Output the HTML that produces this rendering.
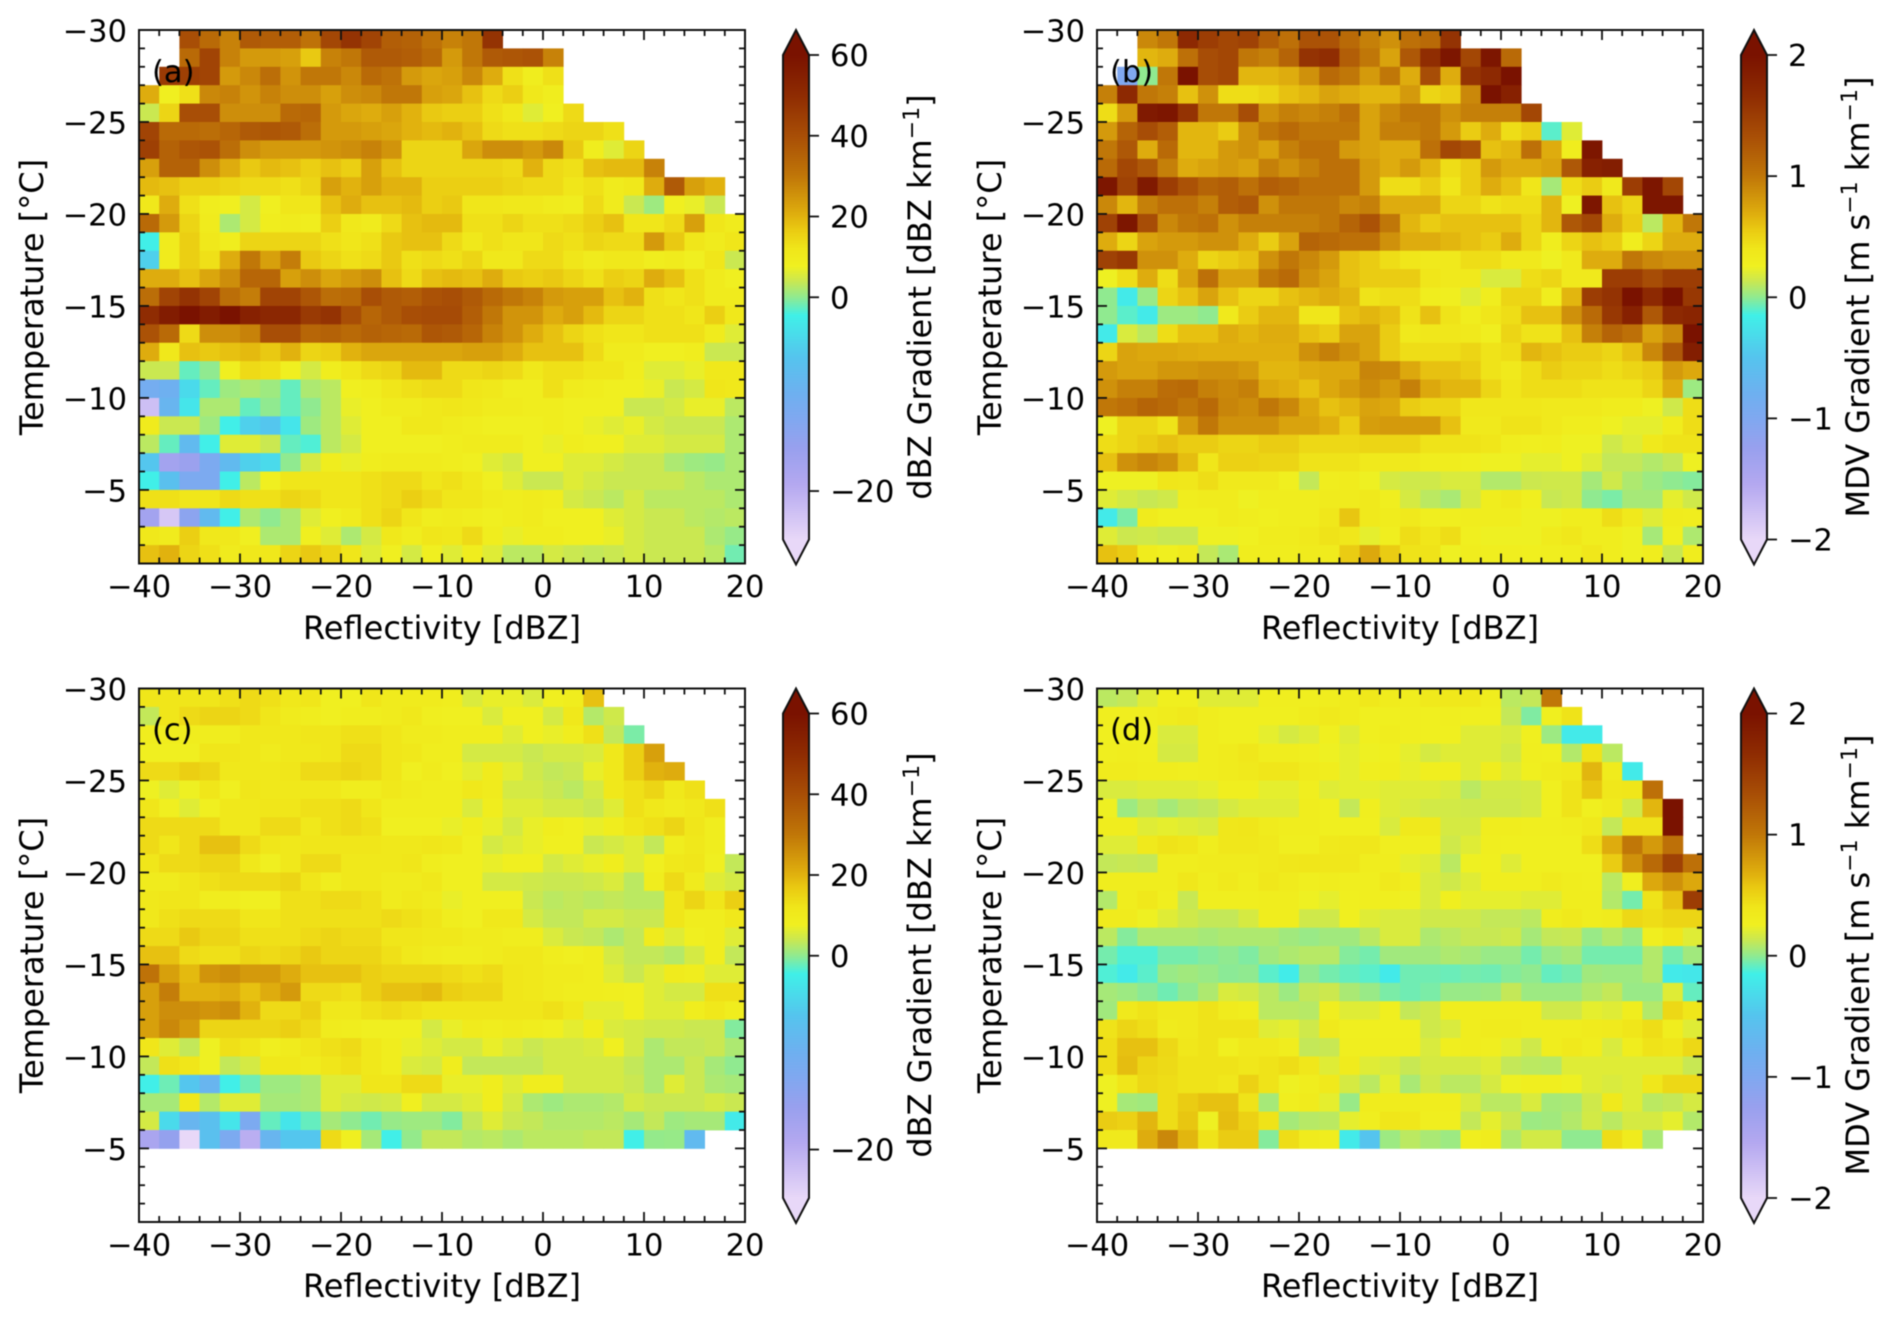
<!DOCTYPE html>
<html lang="en">
<head>
<meta charset="utf-8">
<title>Gradient heatmaps by reflectivity and temperature</title>
<style>
html,body{margin:0;padding:0;background:#fff;}
svg{display:block;filter:blur(0.4px);}
text{font-family:"DejaVu Sans","Liberation Sans",sans-serif;font-size:30.5px;fill:#000;}
text.axis-title{font-size:32px;}
text.axis-title tspan.sup{font-size:22px;}
</style>
</head>
<body>
<svg id="figure" xmlns="http://www.w3.org/2000/svg" width="1892" height="1323" viewBox="0 0 1892 1323">
  <rect x="0" y="0" width="1892" height="1323" fill="#ffffff"/>
  <g id="layer-marks"></g>

  <text class="axis-title" x="442" y="639" text-anchor="middle">Reflectivity [dBZ]</text>
  <text class="axis-title" x="1400" y="639" text-anchor="middle">Reflectivity [dBZ]</text>
  <text class="axis-title" x="442" y="1297" text-anchor="middle">Reflectivity [dBZ]</text>
  <text class="axis-title" x="1400" y="1297" text-anchor="middle">Reflectivity [dBZ]</text>

  <text class="axis-title" transform="translate(43,297) rotate(-90)" text-anchor="middle">Temperature [°C]</text>
  <text class="axis-title" transform="translate(1001,297) rotate(-90)" text-anchor="middle">Temperature [°C]</text>
  <text class="axis-title" transform="translate(43,955) rotate(-90)" text-anchor="middle">Temperature [°C]</text>
  <text class="axis-title" transform="translate(1001,955) rotate(-90)" text-anchor="middle">Temperature [°C]</text>

  <text class="axis-title" transform="translate(931,297) rotate(-90)" text-anchor="middle">dBZ Gradient [dBZ km<tspan class="sup" dy="-12">−1</tspan><tspan dy="12">]</tspan></text>
  <text class="axis-title" transform="translate(931,955) rotate(-90)" text-anchor="middle">dBZ Gradient [dBZ km<tspan class="sup" dy="-12">−1</tspan><tspan dy="12">]</tspan></text>
  <text class="axis-title" transform="translate(1869,297) rotate(-90)" text-anchor="middle">MDV Gradient [m s<tspan class="sup" dy="-12">−1</tspan><tspan dy="12"> km</tspan><tspan class="sup" dy="-12">−1</tspan><tspan dy="12">]</tspan></text>
  <text class="axis-title" transform="translate(1869,955) rotate(-90)" text-anchor="middle">MDV Gradient [m s<tspan class="sup" dy="-12">−1</tspan><tspan dy="12"> km</tspan><tspan class="sup" dy="-12">−1</tspan><tspan dy="12">]</tspan></text>

  <g id="layer-top"></g>

  <text x="152" y="82">(a)</text>
  <text x="1110" y="82">(b)</text>
  <text x="152" y="740">(c)</text>
  <text x="1110" y="740">(d)</text>
</svg>

<script>
const N = null;

const xTickLabels = [-40, -30, -20, -10, 0, 10, 20];
const yTickLabels = [-30, -25, -20, -15, -10, -5];
const dbzColorbarTicks = [60, 40, 20, 0, -20];
const mdvColorbarTicks = [2, 1, 0, -1, -2];

const panelAValues = [
[N,N,40,33,28,37,36,36,31,42,48,43,36,35,31,28,30,48,N,N,N,N,N,N,N,N,N,N,N,N],
[N,N,33,43,28,24,24,23,17,28,30,37,37,36,33,24,30,37,38,39,28,N,N,N,N,N,N,N,N,N],
[N,46,44,43,24,27,32,25,30,30,27,33,31,24,22,23,27,21,13,9,13,N,N,N,N,N,N,N,N,N],
[21,8,13,27,28,25,28,26,26,23,26,27,30,30,23,22,18,14,16,11,9,N,N,N,N,N,N,N,N,N],
[4,15,40,40,26,26,26,33,34,24,22,21,23,20,17,16,16,13,11,6,8,14,N,N,N,N,N,N,N,N],
[43,33,33,32,34,37,38,37,32,24,24,23,22,20,19,20,18,14,13,13,14,15,15,13,N,N,N,N,N,N],
[44,35,38,39,32,26,24,24,24,25,26,28,25,15,15,15,22,26,26,24,27,17,9,6,15,N,N,N,N,N],
[23,35,35,26,21,17,19,18,16,18,16,23,18,15,15,15,15,15,14,20,14,13,18,19,19,28,N,N,N,N],
[19,18,16,16,15,14,14,13,15,23,20,23,20,20,16,16,16,16,15,14,14,12,13,10,11,21,37,23,20,N],
[11,21,13,9,8,5,8,12,12,18,21,18,18,19,16,17,12,12,11,11,10,9,14,10,4,1,8,7,4,N],
[33,24,15,10,2,5,9,10,9,16,11,10,14,18,19,19,13,13,15,13,13,14,16,18,12,12,14,23,12,10],
[-2,10,16,11,9,15,15,15,15,13,12,13,17,18,18,14,11,13,12,12,14,13,15,14,14,24,17,12,10,12],
[-5,10,16,13,21,30,23,29,17,15,13,14,17,13,14,13,15,11,11,14,14,12,10,11,11,9,10,8,12,4],
[21,21,18,22,26,34,34,23,26,22,24,26,18,14,18,19,18,21,17,16,17,15,13,16,15,21,18,13,10,8],
[32,43,48,43,32,29,43,43,38,32,33,40,37,36,39,40,37,33,30,28,24,23,23,18,20,13,12,13,10,10],
[50,56,60,56,60,54,52,52,46,48,40,34,37,40,41,41,36,30,25,25,21,23,19,15,15,13,13,12,16,11],
[39,33,14,26,26,28,40,40,34,35,33,35,34,33,38,37,34,28,25,21,18,15,13,12,12,13,13,13,10,6],
[21,11,18,17,18,19,17,20,15,16,20,22,22,22,22,22,23,23,21,18,18,18,14,10,10,8,8,9,4,4],
[4,4,-1,0,8,14,13,8,5,9,12,14,15,19,19,14,14,15,14,11,13,13,12,12,9,6,6,7,11,11],
[-11,-10,-4,-1,1,2,1,-1,2,3,8,9,12,13,14,14,12,11,9,9,13,10,9,8,8,7,4,5,12,11],
[-22,-9,-3,2,2,-1,0,-1,0,3,7,8,10,10,11,12,11,10,10,9,9,8,8,8,4,4,5,7,7,3],
[10,4,4,1,-2,-5,-6,-3,1,3,6,8,8,11,11,10,9,8,8,8,9,8,7,6,7,5,4,4,4,2],
[3,-1,-8,-2,6,6,4,-1,-1.5,3,5,8,8,8,8,9,10,10,10,8,7,9,8,8,6,6,5,5,5,2],
[-6,-17,-16,-12,-8,-5,-4,0,5,9,7,9,10,10,10,9,8,6,5,8,8,6,6,5,4,4,2,1,0.5,2],
[-2,-7,-12,-12,-2,3,8,12,12,12,12,13,14,14,12,13,11,8,6,4,4,6,5,4,4,4,4,3,2,2],
[13,13,12,12,14,13,13,15,14,12,12,13,14,16,14,12,12,10,9,10,9,5,4,3,5,3,3,3,3,2],
[-17,-23,-14,-8,-2,2,0,2,6,8,10,13,15,12,9,10,9,8,9,10,8,8,8,6,5,4,4,3,2.5,3],
[11,10,16,11,11,8,2,2,8,6,2,5,11,9,12,11,14,9,7,9,9,8,8,7,5,4,4,4,2,0.5],
[18,20,15,13,10,11,11,15,17,15,12,6,8,5,8,6,9,6,3,3,5,4,3.5,4,5,4,4,4,3,-0.7]
];

const panelBValues = [
[N,N,.9,1,1.7,1.5,1.4,1.45,1.2,1.05,1.3,1.3,1.1,.95,.85,1.05,1.1,1.6,N,N,N,N,N,N,N,N,N,N,N,N],
[N,N,.65,.7,1.05,1.35,1.4,1,.95,1.15,1.6,1.65,1.2,1,.75,1.25,1.65,1.95,1.4,1.95,1.1,N,N,N,N,N,N,N,N,N],
[N,-1,0,1,2,1.35,1.4,.65,.65,.7,.85,1.1,1,.8,1,.7,1.35,.7,1.6,1.7,2,N,N,N,N,N,N,N,N,N],
[.95,1.7,1,.95,.6,.85,.45,.45,.5,.6,.65,.75,.7,.65,.65,.8,.5,.55,.9,2,1.8,N,N,N,N,N,N,N,N,N],
[.45,.8,1.9,1.95,1.6,1,1,1.35,.85,.95,.9,.95,1.05,.75,.9,1,1,.85,.95,.95,.95,1.4,N,N,N,N,N,N,N,N],
[.8,1.15,1.35,1.2,.65,.65,.55,.85,1,1.1,1,1,1,.75,.95,.95,1,.8,.55,.7,.45,.55,-.1,.2,N,N,N,N,N,N],
[1,1.25,.7,1.1,.65,.65,.8,.85,.75,.95,1.05,1.05,.8,.75,.7,.7,1.05,1.4,1.3,.6,.65,1.05,.7,.3,1.95,N,N,N,N,N],
[1.1,1.4,1.25,.95,.7,.75,.8,.75,.95,.85,.95,1.05,1.05,.8,.7,.8,.65,.45,.55,.8,.7,.7,.75,1.25,1.8,1.85,N,N,N,N],
[1.95,1.45,1.9,1.5,1.3,1.15,1.2,1.05,1.2,1.15,1.05,1.05,1.05,.8,.45,.45,.55,.4,.55,.7,.6,.4,.05,.45,.55,.35,1.5,1.95,1.4,N],
[.9,.65,.95,1.05,1.05,.95,1.2,1.25,.85,1,1,1,.9,.95,.7,.7,.7,.5,.5,.42,.45,.45,.65,.25,1.95,.6,.5,1.95,1.95,N],
[1.45,1.95,1.35,.9,1,1.05,.85,.95,.95,.95,.95,1,1.15,1.3,1,.65,.55,.6,.6,.6,.6,.5,.65,1.25,1.4,.7,.55,.1,.65,1],
[.7,.5,.75,.8,.8,.85,.85,.7,.55,.75,1.15,1.1,1.05,1.05,.85,.7,.7,.65,.6,.55,.7,.5,.3,.5,.6,.55,.3,.5,.7,.7],
[1.45,1.55,.85,.85,.7,.5,.55,.6,.85,1,.9,.8,.6,.55,.45,.4,.35,.35,.45,.45,.35,.35,.25,.35,.7,.7,1,.9,.85,.85],
[.25,.45,.7,.45,.75,1.05,.75,.75,1,1.1,.85,.75,.6,.55,.55,.55,.4,.35,.35,.18,.18,.45,.5,.35,.35,1.5,1.5,1.35,1.5,1.5],
[0,-.2,.02,.5,.6,.75,.6,.5,.5,.6,.65,.7,.65,.42,.45,.45,.3,.28,.2,.3,.5,.5,.3,.65,1.5,1.6,2,1.7,2,1.55],
[0,-.1,-.2,.03,.03,0,.35,.55,.65,.65,.4,.4,.6,.65,.6,.42,.6,.42,.3,.4,.45,.6,.6,.85,1.1,1.55,1.8,1.25,1.7,1.75],
[-.2,.18,.1,.45,.6,.6,.7,.65,.7,.7,.6,.55,.75,.75,.55,.35,.38,.38,.35,.28,.5,.42,.42,.6,.95,1.15,1.05,.75,.9,2],
[.5,.75,.72,.72,.7,.68,.68,.68,.68,.68,.85,.95,.85,.75,.55,.45,.45,.45,.5,.42,.45,.65,.6,.55,.55,.5,.6,.9,1.25,1.85],
[.8,.75,.75,.82,.82,.85,.85,.8,.65,.65,.7,.72,.72,.92,.9,.72,.6,.6,.55,.42,.35,.45,.55,.5,.5,.45,.5,.55,.8,.72],
[.85,.95,.95,1.08,1.1,.95,.9,.95,.72,.68,.6,.72,.8,.88,.8,.95,.72,.65,.65,.5,.4,.45,.45,.45,.42,.42,.42,.5,.7,.03],
[1,1.05,1.15,1.1,1,1.1,.92,.88,1,.9,.72,.6,.65,.75,.72,.55,.5,.5,.38,.38,.38,.38,.35,.35,.35,.32,.32,.25,.15,.45],
[.25,.5,.5,.42,.8,1,.85,.85,.85,.75,.75,.68,.55,.78,.8,.8,.8,.6,.35,.35,.42,.42,.35,.3,.3,.25,.22,.22,.32,.45],
[.45,.5,.55,.6,.55,.55,.5,.5,.55,.55,.48,.48,.48,.5,.5,.5,.42,.42,.42,.4,.3,.28,.3,.25,.25,.15,.2,.35,.42,.42],
[.6,.85,.92,.85,.62,.4,.52,.52,.5,.5,.42,.42,.42,.35,.35,.35,.3,.3,.27,.25,.25,.22,.22,.25,.2,.12,.12,.08,.12,.25],
[.25,.25,.25,.4,.38,.45,.35,.35,.35,.27,.12,.3,.32,.25,.17,.15,.15,.18,.18,.08,.08,.14,.15,.15,.05,.15,.07,.03,0,-.02],
[.2,.16,.13,.15,.3,.33,.33,.25,.3,.3,.3,.33,.33,.35,.28,.17,.1,.06,.17,.3,.35,.27,.13,.15,0,-.04,.05,.05,.22,.15],
[-.2,-.04,.33,.27,.27,.27,.33,.3,.27,.3,.3,.38,.58,.35,.32,.35,.28,.28,.3,.3,.3,.25,.25,.3,.3,.45,.35,.2,.32,.3],
[.2,.14,.15,.13,.13,.25,.25,.26,.32,.32,.35,.42,.38,.22,.28,.45,.4,.45,.27,.25,.25,.25,.33,.38,.3,.3,.25,.05,.27,.07],
[.6,.55,.32,.27,.33,.12,.06,.3,.3,.3,.33,.33,.55,.72,.55,.42,.42,.25,.3,.28,.28,.27,.28,.3,.38,.3,.25,.3,.13,.3]
];

const panelCValues = [
[12,12,12,12,13,14,13,11,12,8,8,12,10,10,10,9,5.5,7,7,5.5,8,9,18,N,N,N,N,N,N,N],
[3.5,12,14,15,15,14,12,10,9,8,9,9,10,11,8.5,8,8,5.5,8,8,5,11,2.5,4.5,N,N,N,N,N,N],
[9,9,9,9,9,11,11,11,12,12,13,13,12,10,10,9,9,9,6,8,7,9,13,3.5,-.5,N,N,N,N,N],
[8,8,8,12,12,11,10,11,11,12,14,14,12,11,9,9,5,5,5,4,5,5,5.5,11,16,23,N,N,N,N],
[14,14,16,15,11,11,11,12,14,14,15,14,12,8,10,8,6.5,10,6.5,4.5,3.5,4,7,11,16,20,21,N,N,N],
[7.5,6,7.5,12,8,12,11,11,11,11,9,9,11,10,9,9,11,10,5,5,4,3,5,11,13,15,11,13,N,N],
[12,8,6,8,11,11,12,12,13,13,14,12,9,9,9,9,5.5,9,6,6,5,5,4,6,13,11,10,11,13,N],
[14,14,14,14,11,11,14,14,11,13,14,13,8,8,8,7,9,7,5,7,9,8,7,9,12,13,15,12,9,N],
[14,12,14,18,18,14,12,11,12,12,12,12,11,11,12,11,8,5,6,7,8,8,4,5,6,3.5,9,11,9,N],
[12,14,14,15,15,11,8,11,14,14,11,11,11,12,9,8,8,7,8,8,5,6,7,9,6,8,11,12,8,3.5],
[10,10,12,13,14,14,14,15,12,9,11,11,10,10,11,8,8,5,5,4.5,4,4,4.5,5.5,3,9,14,10,6,5],
[11,12,12,9,9,8,8,13,13,14,14,13,10,11,10,7,8,8,8,4,3,3.5,3,3.5,3,3,12,15,12,16],
[11,13,14,14,14,12,12,13,13,13,13,13,14,13,12,9,8,11,11,5,3.5,3.5,5,5,4,4,12,9,9,11],
[14,14,17,15,15,13,13,13,14,15,14,14,12,12,11,11,10,10,9,9,5.5,4,3.5,2,3.5,10,6,8,9,6],
[18,18,14,13,13,15,14,15,17,15,15,15,13,11,10,9,9,10,11,11,9,8,9,5,3.5,3.5,2.5,5,9,3.5],
[31,23,19,25,26,24,24,21,18,18,18,16,15,15,15,14,13,14,12,11,10,10,9,6,4,6,10,9,6,6],
[23,29,20,20,21,18,21,24,14,14,13,16,18,18,19,16,15,15,12,11,10,9,9,8.5,8,6,5,5,13,13],
[23,26,26,25,26,20,14,14,16,11,11,13,14,13,12,12,12,12,12,12,13,11,6.5,6.5,8,6,6,9,11,9],
[23,27,24,15,15,15,15,16,14,10,9,8,8,8,5,7,10,9,10,9,8,6.5,9,5.5,5,4.5,4.5,4,4,-.3],
[12,6,3.5,7.5,13,12,8.5,10,12,13,14,11,9,7,6,5,5,7,5.5,4,5,5,5.5,8,5,2,3.5,3.5,4,2],
[3.5,13,12,7.5,3.5,5,11,11,10,12,13,11,9,5.5,5,9,3.5,3.5,3.5,3.5,5,5,5,5,3.5,2,2,4,1.5,0],
[-2,-.8,-6,-9,-2,-.8,1,1,2,6,6,12,12,14,14,7,7,9,6,9,9,5,5,5,4,2,6,4,2,1.5],
[1.5,1.5,11,2.5,6,6,1.5,1.5,2,6,5,4.5,5,8,5,5,6,9,5,2,1,2,2,2.5,5,4,4,4,5,4],
[5,-4,-9,-7,-3,-12,-1,-3,-1,1.5,0,-.7,.5,1,1,-.3,3.5,6,4,3.5,2.5,2.5,2.5,3,1.5,3.5,1,1.5,1.5,-2.5],
[-18,-15,-25,-7,-12,-20,-9,-6,-6,14,8,1.5,-2,.3,3.5,3.5,2.5,3,2,3,3,3,3.5,3.5,-2,.3,.5,-8,N,N]
];

const panelDValues = [
[.1,.12,.2,.27,.27,.2,.2,.2,.28,.28,.28,.3,.32,.37,.32,.3,.35,.37,.37,.3,.1,.12,1,N,N,N,N,N,N,N],
[.28,.28,.28,.32,.35,.3,.27,.27,.27,.27,.32,.35,.32,.27,.27,.28,.27,.28,.27,.27,.12,-.03,.27,.42,N,N,N,N,N,N],
[.27,.27,.27,.18,.18,.3,.27,.27,.22,.17,.2,.27,.2,.27,.3,.28,.27,.27,.2,.2,.18,.27,.03,-.2,-.2,N,N,N,N,N],
[.28,.3,.28,.17,.17,.3,.33,.38,.3,.3,.28,.25,.22,.25,.27,.22,.17,.2,.2,.2,.16,.28,.27,.08,.42,.1,N,N,N,N],
[.33,.33,.3,.3,.28,.3,.33,.36,.4,.4,.33,.3,.22,.28,.3,.23,.28,.28,.2,.3,.2,.27,.33,.36,.65,.33,-.2,N,N,N],
[.18,.18,.2,.2,.2,.22,.28,.28,.22,.22,.28,.2,.22,.22,.2,.2,.2,.18,.1,.16,.16,.17,.27,.42,.58,.38,.4,1.05,N,N],
[.25,.03,.1,.05,.1,.12,.17,.2,.2,.2,.3,.27,.12,.28,.2,.18,.16,.16,.15,.15,.15,.17,.27,.42,.27,.34,.15,.65,2,N],
[.3,.3,.2,.22,.2,.18,.38,.4,.33,.3,.3,.27,.27,.27,.18,.35,.35,.17,.17,.3,.3,.28,.28,.3,.35,.12,.42,.42,2,N],
[.2,.2,.35,.42,.4,.3,.38,.38,.35,.28,.28,.35,.37,.38,.28,.28,.28,.15,.2,.28,.27,.27,.27,.27,.45,.7,1,.8,1.05,N],
[.12,.13,.12,.3,.3,.33,.33,.33,.35,.38,.4,.38,.38,.3,.3,.22,.2,.1,.25,.27,.2,.27,.27,.27,.27,.55,.85,1.1,1.45,1.05],
[.3,.3,.3,.3,.38,.3,.35,.3,.38,.33,.28,.3,.28,.28,.35,.3,.18,.15,.2,.28,.28,.28,.34,.3,.28,.1,.28,.72,.85,.72],
[.08,.3,.37,.28,.13,.28,.28,.28,.3,.3,.25,.22,.27,.28,.28,.25,.18,.27,.22,.22,.22,.2,.2,.3,.3,.08,-.05,.42,.6,1.5],
[.33,.33,.25,.2,.15,.12,.12,.17,.3,.3,.15,.15,.27,.2,.18,.18,.15,.15,.15,.12,.12,.1,.3,.36,.3,.33,.48,.45,.5,.5],
[.1,-.02,.07,.07,.07,.05,.07,.07,.07,.04,.02,.04,.04,.1,.18,.18,.07,.1,.13,.13,.15,.05,.12,.13,.02,.08,.02,.28,.38,.2],
[-.05,-.12,-.12,-.05,-.05,-.02,0,-.03,.04,.07,.09,.09,-.02,-.05,.04,.04,.04,.07,.05,.02,.02,-.05,.02,.05,-.05,-.05,-.05,.08,-.05,.04],
[-.12,-.2,-.1,.02,.04,.02,-.01,0,-.1,-.18,0,-.05,-.08,-.1,-.2,-.06,-.06,-.07,-.05,-.06,-.02,0,-.08,-.05,.04,.03,.03,.08,-.2,-.22],
[.05,.03,-.01,-.06,0,.07,.18,.16,.1,.03,.12,.14,.06,.02,-.04,-.06,-.04,.02,.02,.03,.12,.03,.03,.03,.08,.12,.02,.02,.2,-.08],
[.04,.36,.42,.36,.36,.42,.33,.3,.1,.1,.09,.28,.2,.2,.27,.12,.15,.3,.3,.3,.3,.3,.15,.15,.22,.2,.3,.08,.48,.4],
[.42,.5,.45,.33,.36,.42,.42,.42,.2,.22,.15,.35,.27,.27,.27,.27,.15,.18,.3,.33,.33,.3,.3,.3,.33,.34,.4,.45,.3,.2],
[.45,.6,.6,.48,.38,.42,.27,.36,.36,.3,.12,.13,.28,.28,.28,.28,.18,.28,.3,.28,.22,.15,.3,.36,.3,.18,.3,.42,.4,.48],
[.45,.62,.5,.47,.42,.42,.42,.38,.42,.45,.38,.2,.33,.2,.18,.13,.17,.17,.17,.2,.12,.1,.09,.2,.2,.2,.2,.2,.2,.13],
[.25,.4,.48,.45,.42,.42,.38,.52,.42,.25,.3,.35,.17,.1,.22,.06,.15,.1,.1,.17,.25,.28,.28,.25,.2,.18,.2,.38,.48,.48],
[.25,.05,.04,.45,.55,.6,.6,.42,.05,.28,.33,.22,.02,.32,.32,.32,.3,.3,.18,.1,.1,.18,.05,.06,.15,.36,.2,.1,.12,.17],
[.55,.52,.65,.45,.58,.25,.62,.52,.42,.05,.09,.1,.22,.28,.4,.38,.28,.28,.12,.22,.14,.03,.04,.08,.16,.1,.17,.17,.22,.08],
[.35,.35,.7,.9,.65,.42,.55,.55,-.02,.45,.33,.3,-.2,-.5,.03,.1,.06,.03,.28,.32,.07,.16,.16,0,0,.45,.33,.06,N,N]
];

const SVG_NS = 'http://www.w3.org/2000/svg';
const marksLayer = document.getElementById('layer-marks');
const topLayer = document.getElementById('layer-top');

const colorStops = [
  [0, '#e8d8f8'], [.114, '#b4a8f0'], [.189, '#98a0ee'], [.249, '#80a8f0'],
  [.301, '#6eb0f0'], [.376, '#55c4ee'], [.4625, '#40f0e8'], [.5, '#90ea90'],
  [.534, '#cbe850'], [.564, '#f0f020'], [.6, '#f0e61a'], [.64, '#eaca12'], [.669, '#e0b00e'],
  [.751, '#c07608'], [.834, '#a84e06'], [.916, '#8f2c02'], [1, '#7a1200']
];

function hexToRgb(h) {
  return [parseInt(h.slice(1, 3), 16), parseInt(h.slice(3, 5), 16), parseInt(h.slice(5, 7), 16)];
}
function colormap(n) {
  const t = Math.max(0, Math.min(1, n));
  for (let i = 1; i < colorStops.length; i++) {
    if (t <= colorStops[i][0]) {
      const a = colorStops[i - 1], b = colorStops[i];
      const f = (t - a[0]) / (b[0] - a[0]);
      const ca = hexToRgb(a[1]), cb = hexToRgb(b[1]);
      return 'rgb(' + ca.map((c, k) => Math.round(c + (cb[k] - c) * f)).join(',') + ')';
    }
  }
  return colorStops[colorStops.length - 1][1];
}
function normDbz(v) { return v >= 0 ? .5 + .5 * v / 60 : .5 + .5 * v / 25; }
function normMdv(v) { return .5 + .5 * v / 2; }

function newEl(tag, parent) {
  const el = document.createElementNS(SVG_NS, tag);
  parent.appendChild(el);
  return el;
}
function fmt(v) { return String(v).replace('-', '\u2212'); }

function drawTick(parent, name, x1, y1, x2, y2, w) {
  const el = newEl('line', parent);
  
  
  el.setAttribute('x1', x1);
  el.setAttribute('y1', y1);
  el.setAttribute('x2', x2);
  el.setAttribute('y2', y2);
  el.setAttribute('stroke', '#111');
  el.setAttribute('stroke-width', w);
}
function drawLabel(parent, name, str, x, y, anchor) {
  const el = newEl('text', parent);
  
  
  el.setAttribute('x', x);
  el.setAttribute('y', y);
  el.setAttribute('text-anchor', anchor);
  el.textContent = str;
}

function drawPanel(key, values, norm, box) {
  const xScale = v => box.x0 + (v + 40) / 60 * (box.x1 - box.x0);
  const yScale = v => box.y0 + (v + 30) / 29 * (box.y1 - box.y0);

  const cells = newEl('g', marksLayer);
  
  
  values.forEach((row, r) => {
    row.forEach((v, c) => {
      if (v === null) return;
      const x = xScale(-40 + 2 * c), y = yScale(-30 + r);
      const cell = newEl('rect', cells);
      
      
      cell.setAttribute('x', x.toFixed(2));
      cell.setAttribute('y', y.toFixed(2));
      cell.setAttribute('width', (xScale(-38 + 2 * c) - x + .4).toFixed(2));
      cell.setAttribute('height', (yScale(-29 + r) - y + .4).toFixed(2));
      cell.setAttribute('fill', colormap(norm(v)));
    });
  });

  const axes = newEl('g', topLayer);
  
  

  for (let v = -40; v <= 20; v += 2) {
    const major = xTickLabels.includes(v);
    const len = major ? 10 : 6;
    drawTick(axes, 'x-tick', xScale(v), box.y1, xScale(v), box.y1 - len, 1.8);
    drawTick(axes, 'x-tick-top', xScale(v), box.y0, xScale(v), box.y0 + len, 1.8);
  }
  for (let v = -30; v <= -1; v += 1) {
    const major = yTickLabels.includes(v);
    const len = major ? 10 : 6;
    drawTick(axes, 'y-tick', box.x0, yScale(v), box.x0 + len, yScale(v), 1.8);
    drawTick(axes, 'y-tick-right', box.x1, yScale(v), box.x1 - len, yScale(v), 1.8);
  }
  xTickLabels.forEach(v => {
    drawLabel(axes, 'x-tick-label', fmt(v), xScale(v), box.y1 + 33.5, 'middle');
  });
  yTickLabels.forEach(v => {
    drawLabel(axes, 'y-tick-label', fmt(v), box.x0 - 12, yScale(v) + 11.5, 'end');
  });

  const spine = newEl('rect', axes);
  
  
  spine.setAttribute('x', box.x0);
  spine.setAttribute('y', box.y0);
  spine.setAttribute('width', box.x1 - box.x0);
  spine.setAttribute('height', box.y1 - box.y0);
  spine.setAttribute('fill', 'none');
  spine.setAttribute('stroke', '#111');
  spine.setAttribute('stroke-width', 2);
}

function drawColorbar(key, ticks, norm, bar) {
  const g = newEl('g', topLayer);
  
  

  const defs = newEl('defs', g);
  const grad = newEl('linearGradient', defs);
  grad.setAttribute('id', 'grad-' + key);
  grad.setAttribute('x1', '0');
  grad.setAttribute('y1', '1');
  grad.setAttribute('x2', '0');
  grad.setAttribute('y2', '0');
  colorStops.forEach(s => {
    const st = newEl('stop', grad);
    st.setAttribute('offset', s[0]);
    st.setAttribute('stop-color', s[1]);
  });

  const mid = (bar.x0 + bar.x1) / 2;
  const up = newEl('polygon', g);
  
  
  up.setAttribute('points', bar.x0 + ',' + bar.y0 + ' ' + mid + ',' + (bar.y0 - 25) + ' ' + bar.x1 + ',' + bar.y0);
  up.setAttribute('fill', colormap(1));
  const down = newEl('polygon', g);
  
  
  down.setAttribute('points', bar.x0 + ',' + bar.y1 + ' ' + mid + ',' + (bar.y1 + 25) + ' ' + bar.x1 + ',' + bar.y1);
  down.setAttribute('fill', colormap(0));

  const body = newEl('rect', g);
  
  
  body.setAttribute('x', bar.x0);
  body.setAttribute('y', bar.y0);
  body.setAttribute('width', bar.x1 - bar.x0);
  body.setAttribute('height', bar.y1 - bar.y0);
  body.setAttribute('fill', 'url(#grad-' + key + ')');

  const outline = newEl('polygon', g);
  
  
  outline.setAttribute('points', [
    [bar.x0, bar.y0], [mid, bar.y0 - 25], [bar.x1, bar.y0],
    [bar.x1, bar.y1], [mid, bar.y1 + 25], [bar.x0, bar.y1]
  ].map(p => p.join(',')).join(' '));
  outline.setAttribute('fill', 'none');
  outline.setAttribute('stroke', '#111');
  outline.setAttribute('stroke-width', 2);

  const yOf = v => bar.y1 - norm(v) * (bar.y1 - bar.y0);
  ticks.forEach(v => {
    drawTick(g, 'colorbar-tick', bar.x1, yOf(v), bar.x1 + 10, yOf(v), 1.8);
    drawLabel(g, 'colorbar-tick-label', fmt(v), bar.x1 + 21, yOf(v) + 11, 'start');
  });
}

drawPanel('a', panelAValues, normDbz, {x0: 139, x1: 745, y0: 30, y1: 563.5});
drawPanel('b', panelBValues, normMdv, {x0: 1097, x1: 1703, y0: 30, y1: 563.5});
drawPanel('c', panelCValues, normDbz, {x0: 139, x1: 745, y0: 688.5, y1: 1222});
drawPanel('d', panelDValues, normMdv, {x0: 1097, x1: 1703, y0: 688.5, y1: 1222});

drawColorbar('a', dbzColorbarTicks, normDbz, {x0: 783, x1: 809, y0: 55, y1: 539.5});
drawColorbar('b', mdvColorbarTicks, normMdv, {x0: 1741, x1: 1767, y0: 55, y1: 539.5});
drawColorbar('c', dbzColorbarTicks, normDbz, {x0: 783, x1: 809, y0: 713.5, y1: 1198});
drawColorbar('d', mdvColorbarTicks, normMdv, {x0: 1741, x1: 1767, y0: 713.5, y1: 1198});
</script>
</body>
</html>
